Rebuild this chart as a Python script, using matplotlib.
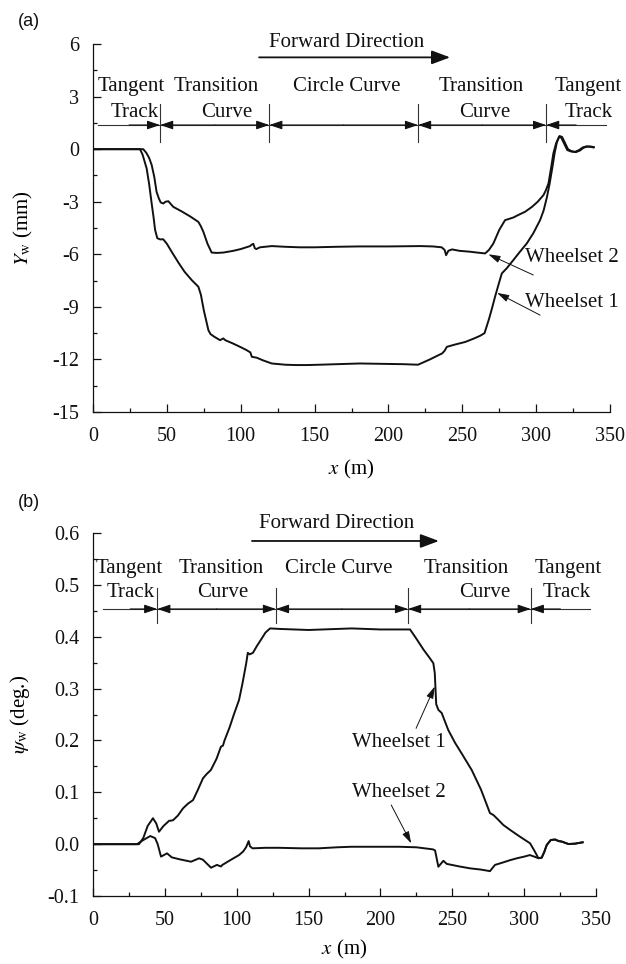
import matplotlib
matplotlib.use("Agg")
import matplotlib.pyplot as plt
from matplotlib.ticker import MultipleLocator, FormatStrFormatter

plt.rcParams["font.family"] = ["Liberation Serif", "DejaVu Serif"]
plt.rcParams["mathtext.fontset"] = "stix"
plt.rcParams["axes.unicode_minus"] = False

# ---------------- (a) lateral displacement Y_w (mm) ----------------
ws1_a_x = [0, 31.8, 33.5, 36.3, 38, 39.7, 41, 42, 43.5, 45.5, 47.5, 50, 53.2, 58, 62,
           66.8, 71.3, 73, 75, 78.1, 79.5, 82, 86, 88.2, 89.5, 95, 100, 104, 106.5,
           107.5, 110.8, 115, 121, 130, 137, 145, 153.5, 165, 180.6, 195, 210, 220,
           228, 236.4, 238, 239.5, 245, 252, 258, 262, 265, 268, 270, 272.2, 274.4,
           276.7, 280, 284.5, 289, 293.6, 298, 302.6, 305, 307.2, 309, 311, 312.5,
           314, 315.5, 317, 319, 321, 323.5, 326.3, 329, 331.5, 334, 336.5, 338.7]
ws1_a_y = [0, 0, -0.3, -1.1, -2.0, -3.1, -3.9, -4.6, -5.08, -5.15, -5.14, -5.4, -5.85,
           -6.5, -7.0, -7.47, -7.85, -8.3, -9.2, -10.33, -10.55, -10.7, -10.9, -10.8,
           -10.9, -11.1, -11.3, -11.47, -11.6, -11.85, -11.9, -12.05, -12.23, -12.3,
           -12.32, -12.32, -12.3, -12.27, -12.23, -12.25, -12.27, -12.3, -12.0, -11.65,
           -11.5, -11.28, -11.15, -11.0, -10.8, -10.65, -10.5, -9.7, -9.1, -8.4, -7.75,
           -7.09, -6.8, -6.33, -5.85, -5.38, -4.8, -4.05, -3.5, -2.75, -2.0, -1.0,
           -0.2, 0.4, 0.72, 0.65, 0.3, -0.05, -0.13, -0.15, -0.05, 0.1, 0.16, 0.14, 0.1]

ws2_a_x = [0, 34, 36, 38, 39.7, 41.5, 43, 44.5, 45.8, 47.6, 49, 51, 54.3, 60, 66, 71.3,
           73, 74.7, 77.5, 80.3, 84, 88.2, 95, 100, 106.3, 107.4, 108.5, 109.5, 110.5,
           113, 121, 130, 140, 150, 165, 180, 200, 221.5, 230, 236, 238, 239, 240.5,
           243, 248, 255, 260, 265.4, 268, 271, 275, 278.9, 284.5, 288, 292.5, 297,
           301, 304.9, 306.5, 308.3, 310, 311.6, 313.5, 315.8, 317.5, 319.5, 321.5,
           324, 326.8, 329.5, 332, 334.5, 337, 339]
ws2_a_y = [0, 0, -0.2, -0.5, -0.9, -1.6, -2.43, -2.8, -3.04, -3.1, -3.0, -2.97, -3.29,
           -3.55, -3.85, -4.15, -4.4, -4.72, -5.4, -5.9, -5.92, -5.9, -5.8, -5.7, -5.53,
           -5.45, -5.4, -5.65, -5.7, -5.6, -5.53, -5.57, -5.6, -5.6, -5.57, -5.55,
           -5.55, -5.53, -5.55, -5.6, -5.75, -6.05, -5.8, -5.72, -5.8, -5.85, -5.9,
           -5.95, -5.75, -5.38, -4.6, -4.05, -3.9, -3.75, -3.57, -3.3, -3.0, -2.62,
           -2.35, -1.95, -1.1, -0.24, 0.35, 0.75, 0.7, 0.35, 0.0, -0.12, -0.17, -0.08,
           0.08, 0.15, 0.15, 0.12]

# ---------------- (b) yaw angle psi_w (deg.) ----------------
ws1_b_x = [0, 32, 35, 38, 41.7, 44, 45.9, 49, 52.9, 55.6, 59, 62.6, 66, 69.6, 73, 76.5,
           79, 82, 86, 89, 90.4, 91.5, 95, 98, 101.6, 104, 106.6, 107.7, 109, 111.3,
           114, 116.8, 120, 123.2, 130, 140, 150, 160, 170, 180, 190, 200, 210, 220.6,
           224.8, 230, 234, 236.8, 237.8, 238.8, 240.3, 242.6, 247.2, 252, 256.5,
           263.5, 270, 276.2, 278.7, 282, 285.5, 291, 297.1, 304.1, 307, 309.9, 312.2,
           314, 315.7, 318.5, 321.5, 324, 326.2, 330.8, 335.4, 340.7]
ws1_b_y = [0, 0, 0.012, 0.035, 0.05, 0.04, 0.024, 0.035, 0.045, 0.046, 0.055, 0.069,
           0.078, 0.085, 0.105, 0.127, 0.135, 0.143, 0.165, 0.188, 0.19, 0.2, 0.225,
           0.25, 0.278, 0.31, 0.349, 0.369, 0.366, 0.369, 0.382, 0.394, 0.408, 0.416,
           0.415, 0.414, 0.413, 0.414, 0.415, 0.416, 0.415, 0.414, 0.414, 0.414, 0.397,
           0.375, 0.36, 0.349, 0.33, 0.27, 0.259, 0.253, 0.22, 0.195, 0.175, 0.143,
           0.105, 0.06, 0.056, 0.047, 0.037, 0.026, 0.0144, 0.0017, -0.012, -0.027,
           -0.026, -0.015, -0.0016, 0.008, 0.009, 0.006, 0.005, 0.0003, 0.001, 0.0036]

ws2_b_x = [0, 30.6, 35, 39.8, 43.2, 45, 47.3, 51.5, 54.8, 60, 68.2, 73.8, 76.5, 82.1,
           86.2, 89, 90, 96, 101.6, 104.5, 106.5, 108.3, 109.2, 111, 120, 129.4, 145,
           157, 170, 179.6, 195, 213, 225, 236.5, 238, 240.3, 243.8, 246.1, 255, 262.3,
           270, 276.2, 279.7, 284.4, 290, 294.8, 300, 304, 307, 309.9, 312.2, 314,
           315.7, 318.5, 321.5, 324, 326.2, 330.8, 335.4, 340.7]
ws2_b_y = [0, 0, 0.008, 0.0157, 0.0117, 0.0, -0.024, -0.0177, -0.0254, -0.029, -0.0338,
           -0.0273, -0.03, -0.0454, -0.04, -0.043, -0.04, -0.03, -0.021, -0.014, -0.006,
           0.006, -0.004, -0.008, -0.007, -0.007, -0.008, -0.008, -0.006, -0.005,
           -0.005, -0.005, -0.006, -0.01, -0.012, -0.0435, -0.032, -0.038, -0.043,
           -0.0466, -0.049, -0.052, -0.04, -0.036, -0.031, -0.0273, -0.024, -0.021,
           -0.024, -0.027, -0.026, -0.015, -0.0016, 0.008, 0.009, 0.006, 0.005, 0.0003,
           0.001, 0.0036]

# track sections (boundaries in m) and their labels
bounds_a = [45.4, 119.3, 220.0, 306.7]
bounds_b = [44.7, 127.3, 219.2, 304.6]
section_top = ["Tangent", "Transition", "Circle Curve", "Transition", "Tangent"]
section_bottom = ["Track", "Curve", "", "Curve", "Track"]

INK = "#111111"
LINE_W = 1.4

fig = plt.figure(figsize=(6.26, 9.64), dpi=100)
ax_a = fig.add_axes([0.1486, 0.5726, 0.826, 0.3817])
ax_b = fig.add_axes([0.1486, 0.0705, 0.8035, 0.3766])


def style_axis(ax):
    for s in ("top", "right"):
        ax.spines[s].set_visible(False)
    for s in ("left", "bottom"):
        ax.spines[s].set_linewidth(0.9)
        ax.spines[s].set_color(INK)
    ax.tick_params(which="both", direction="in", colors=INK, labelsize=14.5, width=0.9)
    ax.tick_params(which="major", length=6)
    ax.tick_params(which="minor", length=3)
    ax.tick_params(axis="y", pad=10)
    ax.tick_params(axis="x", pad=11)
    ax.set_xlim(0, 350)
    ax.xaxis.set_major_locator(MultipleLocator(50))
    ax.xaxis.set_minor_locator(MultipleLocator(25))
    ax.set_xlabel(r"$x$ (m)", fontsize=15)


def sections(ax, bounds, y_line, x0, x1, v0, v1, tx_top, tx_bot, y_top, y_bot):
    ax.plot([x0, x1], [y_line, y_line], color="#333333", lw=0.8, clip_on=False)
    for b in bounds:
        ax.plot([b, b], [v0, v1], color="#333333", lw=0.8, clip_on=False)
    edges = [x0] + bounds + [x1]
    for i in range(len(edges) - 1):
        a, b = edges[i], edges[i + 1]
        if i > 0:
            ax.annotate("", xy=(a, y_line), xytext=((a + b) / 2, y_line),
                        arrowprops=dict(arrowstyle="-|>,head_length=0.65,head_width=0.22",
                                        mutation_scale=12, lw=0.8, color=INK,
                                        shrinkA=0, shrinkB=0))
        if i < len(edges) - 2:
            ax.annotate("", xy=(b, y_line), xytext=((a + b) / 2, y_line),
                        arrowprops=dict(arrowstyle="-|>,head_length=0.65,head_width=0.22",
                                        mutation_scale=12, lw=0.8, color=INK,
                                        shrinkA=0, shrinkB=0))
    for k in range(5):
        ax.text(tx_top[k], y_top, section_top[k], ha="center", va="baseline",
                fontsize=15, color=INK, clip_on=False)
        if section_bottom[k]:
            ax.text(tx_bot[k], y_bot, section_bottom[k], ha="center", va="baseline",
                    fontsize=15, color=INK, clip_on=False)


def forward(ax, x_text, y_text, xa, xb, ya):
    ax.text(x_text, y_text, "Forward Direction", ha="center", va="baseline",
            fontsize=15, color=INK)
    ax.annotate("", xy=(xb, ya), xytext=(xa, ya),
                arrowprops=dict(arrowstyle="-|>,head_length=0.75,head_width=0.28",
                                mutation_scale=15, lw=1.3, color=INK,
                                shrinkA=0, shrinkB=0))


def pointer(ax, label, tx, ty, tail, head):
    ax.text(tx, ty, label, ha="left", va="baseline", fontsize=15, color=INK)
    ax.annotate("", xy=head, xytext=tail,
                arrowprops=dict(arrowstyle="-|>,head_length=0.6,head_width=0.18",
                                mutation_scale=12, lw=0.7, color=INK,
                                shrinkA=0, shrinkB=0))


# ---- panel (a)
style_axis(ax_a)
ax_a.plot(ws1_a_x, ws1_a_y, color=INK, lw=LINE_W)
ax_a.plot(ws2_a_x, ws2_a_y, color=INK, lw=LINE_W)
ax_a.set_ylim(-15, 6)
ax_a.yaxis.set_major_locator(MultipleLocator(3))
ax_a.yaxis.set_minor_locator(MultipleLocator(1.5))
ax_a.yaxis.set_major_formatter(FormatStrFormatter("%d"))
ax_a.set_ylabel(r"$Y_{\rm w}$ (mm)", fontsize=15)
ax_a.yaxis.set_label_coords(-0.112, 0.5)
ax_a.xaxis.set_label_coords(0.5, -0.125)
sections(ax_a, bounds_a, 1.38, 3.4, 347.3, 2.58, 0.42,
         [25.7, 83.3, 171.7, 262.9, 335.0], [28.4, 90.3, 0, 265.1, 335.8], 3.33, 1.85)
forward(ax_a, 171.7, 5.85, 112.4, 241.7, 5.24)
pointer(ax_a, "Wheelset 2", 292.5, -6.45, (298.0, -7.18), (267.6, -6.0))
pointer(ax_a, "Wheelset 1", 292.5, -9.0, (302.6, -9.47), (273.5, -8.2))

# ---- panel (b)
style_axis(ax_b)
ax_b.plot(ws1_b_x, ws1_b_y, color=INK, lw=LINE_W)
ax_b.plot(ws2_b_x, ws2_b_y, color=INK, lw=LINE_W)
ax_b.set_ylim(-0.1, 0.6)
ax_b.yaxis.set_major_locator(MultipleLocator(0.1))
ax_b.yaxis.set_minor_locator(MultipleLocator(0.05))
ax_b.yaxis.set_major_formatter(FormatStrFormatter("%.1f"))
ax_b.set_ylabel(r"$\psi_{\rm w}$ (deg.)", fontsize=15)
ax_b.yaxis.set_label_coords(-0.121, 0.5)
ax_b.xaxis.set_label_coords(0.5, -0.115)
sections(ax_b, bounds_b, 0.4535, 7.0, 345.8, 0.4934, 0.427,
         [25.5, 89.0, 171.2, 259.5, 330.5], [25.9, 90.5, 0, 272.4, 329.6], 0.5235, 0.477)
forward(ax_b, 169.8, 0.609, 110.6, 240.7, 0.5846)
pointer(ax_b, "Wheelset 1", 180.0, 0.187, (224.8, 0.2234), (237.8, 0.304))
pointer(ax_b, "Wheelset 2", 180.0, 0.0915, (207.5, 0.0755), (221.4, 0.0016))

# panel tags
fig.text(18 / 626, 1 - 21.5 / 964, "(a)", family=["Liberation Sans", "DejaVu Sans"],
         fontsize=13, ha="left", va="center", color=INK)
fig.text(18 / 626, 1 - 502 / 964, "(b)", family=["Liberation Sans", "DejaVu Sans"],
         fontsize=13, ha="left", va="center", color=INK)

fig.savefig("out.png", dpi=100)
